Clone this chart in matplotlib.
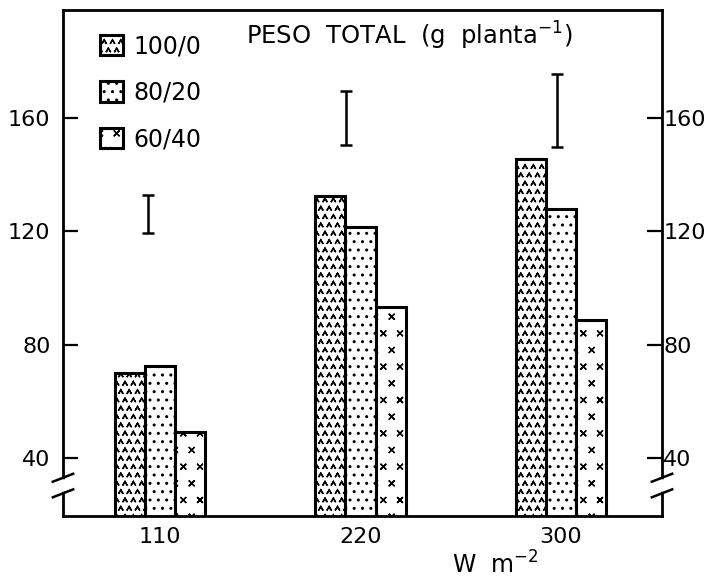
import warnings
import numpy as np
import matplotlib
matplotlib.use("Agg")
import matplotlib.pyplot as plt
from matplotlib import hatch as mhatch
from matplotlib.path import Path

warnings.filterwarnings("ignore")

# data
irradiance = ["110", "220", "300"]
series = ["100/0", "80/20", "60/40"]
peso_100_0 = [70.0, 132.5, 145.5]
peso_80_20 = [72.5, 121.5, 128.0]
peso_60_40 = [49.0, 93.3, 88.7]
lsd_low = [119.5, 150.5, 149.7]
lsd_high = [132.8, 169.5, 175.4]
lsd_offset = [-0.06, -0.07, -0.02]
y_ticks = [40, 80, 120, 160]


# custom hatches: small carets and small crosses
class Carets(mhatch.Shapes):
    size = 0.5
    filled = False

    def __init__(self, hatch, density):
        self.num_rows = hatch.count('^') * density
        self.shape_vertices = np.array([[-0.5, -0.4], [0.0, 0.45], [0.5, -0.4]])
        self.shape_codes = np.array([Path.MOVETO, Path.LINETO, Path.LINETO],
                                    dtype=Path.code_type)
        super().__init__(hatch, density)


class Crosses(mhatch.Shapes):
    size = 0.3
    filled = False

    def __init__(self, hatch, density):
        self.num_rows = hatch.count('k') * density
        self.shape_vertices = np.array([[-0.5, -0.5], [0.5, 0.5], [-0.5, 0.5], [0.5, -0.5]])
        self.shape_codes = np.array([Path.MOVETO, Path.LINETO, Path.MOVETO, Path.LINETO],
                                    dtype=Path.code_type)
        super().__init__(hatch, density)


mhatch._hatch_types.append(Carets)
mhatch._hatch_types.append(Crosses)

plt.rcParams['font.family'] = ['DejaVu Sans']
plt.rcParams['mathtext.default'] = 'regular'
plt.rcParams['hatch.linewidth'] = 1.0

fig = plt.figure(figsize=(7.11, 5.82), dpi=100)
ax = fig.add_axes([63 / 711, 66 / 582, 599 / 711, 506 / 582])

x = np.arange(len(irradiance))
width = 0.15
hatches = ['^^', '..', 'k']
handles = []
for i, (vals, lab) in enumerate(zip([peso_100_0, peso_80_20, peso_60_40], series)):
    b = ax.bar(x + (i - 1) * width, vals, width, bottom=0, color='white',
               edgecolor='black', linewidth=2.2, hatch=hatches[i], label=lab, zorder=2)
    handles.append(b)

low = np.array(lsd_low)
high = np.array(lsd_high)
ax.errorbar(x + np.array(lsd_offset), (low + high) / 2, yerr=(high - low) / 2,
            fmt='none', ecolor='black', elinewidth=1.8, capsize=4.3, capthick=1.8)

ax.set_xlim(-0.484, 2.504)
ax.set_ylim(19.5, 198.1)

ax.set_xticks(x)
ax.set_xticklabels(irradiance, fontsize=16)
ax.tick_params(axis='x', length=0, pad=8)
ax.set_yticks(y_ticks)
ax.tick_params(axis='y', direction='in', length=11, width=1.6, labelsize=16,
               pad=9, right=False)

# right-hand axis, same scale
ax2 = ax.twinx()
ax2.set_ylim(ax.get_ylim())
ax2.set_yticks(y_ticks)
ax2.tick_params(axis='y', direction='in', length=11, width=1.6, labelsize=16, pad=1)

for a in (ax, ax2):
    for s in a.spines.values():
        s.set_linewidth(2.0)

# axis break marks on both sides
tr = ax.get_yaxis_transform()
for xs in (0.0, 1.0):
    ax.plot([xs, xs], [29.0, 31.5], color='white', lw=4, transform=tr,
            clip_on=False, zorder=5)
    for yb in (27.5, 33.0):
        ax.plot([xs - 0.017, xs + 0.017], [yb - 1.4, yb + 1.4], color='black',
                lw=1.8, transform=tr, clip_on=False, zorder=6)
ax2.spines['left'].set_visible(False)
ax2.spines['right'].set_visible(False)
ax2.spines['top'].set_visible(False)
ax2.spines['bottom'].set_visible(False)

ax.text(0.578, 0.931, 'PESO  TOTAL  (g  planta$^{-1}$)', transform=ax.transAxes,
        ha='center', va='baseline', fontsize=17.5)
ax.text(0.721, -0.113, 'W  m$^{-2}$', transform=ax.transAxes,
        ha='center', va='baseline', fontsize=17)

ax.legend(handles, series, loc='upper left', bbox_to_anchor=(0.062, 0.952),
          frameon=False, fontsize=17, handlelength=0.95, handleheight=0.95,
          handletextpad=0.45, labelspacing=0.95, borderpad=0, borderaxespad=0)

fig.savefig('out.png', dpi=100)
